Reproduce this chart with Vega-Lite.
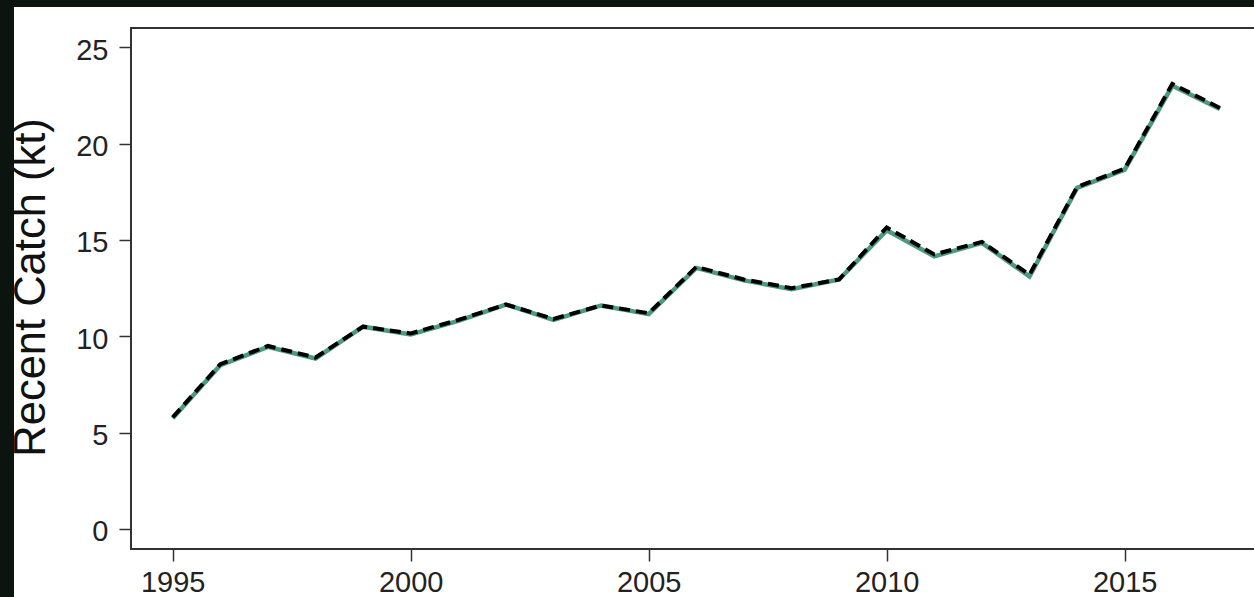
{
  "$schema": "https://vega.github.io/schema/vega-lite/v6.json",
  "width": 1240,
  "height": 590,
  "autosize": "none",
  "padding": {"left": 14, "top": 7, "right": 0, "bottom": 0},
  "background": "#0c1410",
  "config": {
    "view": {"fill": "white", "stroke": null},
    "font": "Liberation Sans"
  },
  "data": {
    "values": [
      {"year": 1995, "catch": 5.75, "catch_fit": 5.8},
      {"year": 1996, "catch": 8.5, "catch_fit": 8.55},
      {"year": 1997, "catch": 9.45, "catch_fit": 9.5},
      {"year": 1998, "catch": 8.85, "catch_fit": 8.9},
      {"year": 1999, "catch": 10.5, "catch_fit": 10.5},
      {"year": 2000, "catch": 10.1, "catch_fit": 10.15},
      {"year": 2001, "catch": 10.8, "catch_fit": 10.85},
      {"year": 2002, "catch": 11.65, "catch_fit": 11.65},
      {"year": 2003, "catch": 10.85, "catch_fit": 10.9},
      {"year": 2004, "catch": 11.6, "catch_fit": 11.6},
      {"year": 2005, "catch": 11.15, "catch_fit": 11.2},
      {"year": 2006, "catch": 13.55, "catch_fit": 13.6},
      {"year": 2007, "catch": 12.9, "catch_fit": 12.95},
      {"year": 2008, "catch": 12.45, "catch_fit": 12.5},
      {"year": 2009, "catch": 12.95, "catch_fit": 12.95},
      {"year": 2010, "catch": 15.5, "catch_fit": 15.65},
      {"year": 2011, "catch": 14.15, "catch_fit": 14.25},
      {"year": 2012, "catch": 14.85, "catch_fit": 14.9},
      {"year": 2013, "catch": 13.1, "catch_fit": 13.2},
      {"year": 2014, "catch": 17.7, "catch_fit": 17.75},
      {"year": 2015, "catch": 18.65, "catch_fit": 18.7},
      {"year": 2016, "catch": 23.0, "catch_fit": 23.1},
      {"year": 2017, "catch": 21.8, "catch_fit": 21.85}
    ]
  },
  "layer": [
    {
      "mark": {"type": "line", "strokeWidth": 4.5, "clip": true},
      "encoding": {
        "x": {
          "field": "year",
          "type": "quantitative",
          "title": null,
          "scale": {"domain": [1991.666, 2017.716], "nice": false, "zero": false},
          "axis": {
            "values": [1995, 2000, 2005, 2010, 2015],
            "format": "d",
            "offset": -48,
            "domain": false,
            "grid": false,
            "tickSize": 12,
            "tickWidth": 1.5,
            "tickColor": "#333333",
            "labelFontSize": 29,
            "labelColor": "#222222",
            "labelPadding": 7,
            "labelFlush": false,
            "labelOverlap": false
          }
        },
        "y": {
          "field": "catch",
          "type": "quantitative",
          "title": "Recent Catch (kt)",
          "scale": {"domain": [-3.529, 27.089], "nice": false, "zero": false},
          "axis": {
            "values": [0, 5, 10, 15, 20, 25],
            "offset": -117,
            "domain": false,
            "grid": false,
            "tickSize": 12,
            "tickWidth": 1.5,
            "tickColor": "#333333",
            "labelFontSize": 29,
            "labelColor": "#222222",
            "labelPadding": 11,
            "labelOffset": 3,
            "labelFlush": false,
            "labelOverlap": false,
            "titleFontSize": 43.5,
            "titleFontWeight": "normal",
            "titleColor": "#111111",
            "titlePadding": 22,
            "titleY": 280
          }
        },
        "color": {"value": "#4a9b7f"}
      }
    },
    {
      "mark": {"type": "line", "strokeWidth": 4, "strokeDash": [11, 6], "clip": true},
      "encoding": {
        "x": {"field": "year", "type": "quantitative"},
        "y": {"field": "catch_fit", "type": "quantitative"},
        "color": {"value": "#000000"}
      }
    },
    {
      "mark": {"type": "rule", "color": "#333333", "strokeWidth": 1.5, "clip": true},
      "encoding": {
        "x": {"datum": 1994.12},
        "x2": {"datum": 2017.88},
        "y": {"datum": 26}
      }
    },
    {
      "mark": {"type": "rule", "color": "#333333", "strokeWidth": 1.5, "clip": true},
      "encoding": {
        "x": {"datum": 1994.12},
        "x2": {"datum": 2017.88},
        "y": {"datum": -1.04}
      }
    },
    {
      "mark": {"type": "rule", "color": "#333333", "strokeWidth": 1.5, "clip": true},
      "encoding": {
        "x": {"datum": 1994.12},
        "y": {"datum": -1.04},
        "y2": {"datum": 26}
      }
    }
  ]
}
